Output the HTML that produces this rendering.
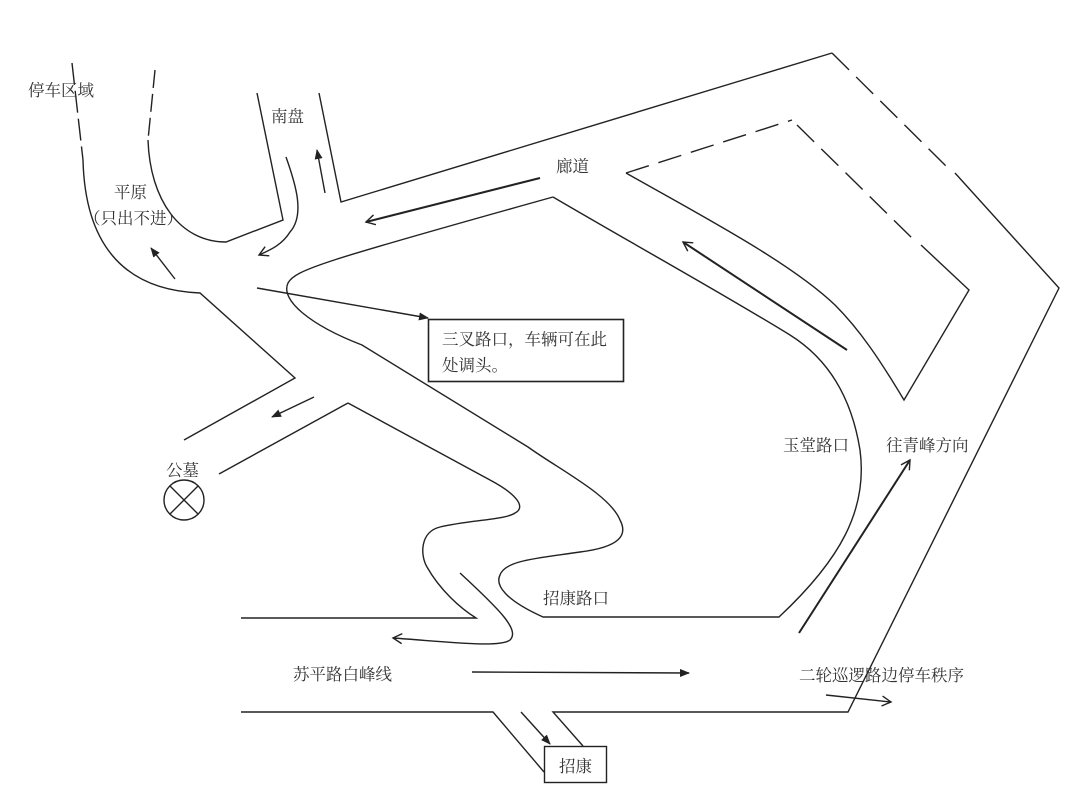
<!DOCTYPE html>
<html><head><meta charset="utf-8"><style>
html,body{margin:0;padding:0;background:#fff;}
svg{display:block;}
text{font-family:"Liberation Serif","Noto Serif CJK SC","Noto Sans CJK SC",serif;font-size:16.5px;fill:#333;}
</style></head><body>
<svg width="1080" height="811" viewBox="0 0 1080 811" xmlns="http://www.w3.org/2000/svg">
<defs>
<marker id="a" markerWidth="10" markerHeight="8" refX="9" refY="4" orient="auto" markerUnits="userSpaceOnUse"><path d="M0,0 L10,4 L0,8 Z" fill="#222"/></marker>
<marker id="o" markerWidth="12" markerHeight="12" refX="10" refY="6" orient="auto" markerUnits="userSpaceOnUse"><path d="M1,1 L10,6 L1,11" fill="none" stroke="#222" stroke-width="1.4"/></marker>
</defs>
<g fill="none" stroke="#222" stroke-width="1.4">
<path d="M72,63 L83,160" stroke-dasharray="22,6"/>
<path d="M83,160 C85,240 120,290 200,293 L295,378 L184,440"/>
<path d="M155,70 L148,140" stroke-dasharray="18,6"/>
<path d="M148,140 C150,200 180,242 226,242 L283,220 L257,93"/>
<path d="M319,93 L341,202 L832,53"/>
<path d="M832,53 L950,170" stroke-dasharray="24,10"/>
<path d="M955,173 L1059,288 L848,712 L553,712 L583,746"/>
<path d="M626,173 L792,120" stroke-dasharray="24,10"/>
<path d="M797,125 L914,240" stroke-dasharray="24,10"/>
<path d="M921,245 L969,290 L904,400 C880,360 860,330 835,305 C790,262 700,215 626,173"/>
<path d="M553,197 C640,248 720,292 790,335 C830,360 852,400 860,450 C868,510 840,560 779,617 L543,617 C505,600 495,585 500,575 C505,560 540,558 580,552 C620,547 628,535 620,520 C610,495 560,470 528,447 L362,345 C310,325 280,300 288,283 C295,270 320,262 553,197"/>
<path d="M348,403 L490,480 C520,496 525,508 515,513 C505,520 470,520 440,527 C420,532 420,555 427,567 C440,590 460,608 476,618 L241,618"/>
<path d="M348,403 L219,474"/>
<path d="M241,712 L493,712 L544,772"/>
<path d="M257,288 L428,318" marker-end="url(#a)"/>
<path d="M325,193 L317,150" marker-end="url(#a)"/>
<path d="M286,157 C296,185 305,215 290,232 C282,245 270,250 259,255" marker-end="url(#o)"/>
<path d="M175,279 L151,248" marker-end="url(#a)"/>
<path d="M540,178 L366,222" stroke-width="2" marker-end="url(#o)"/>
<path d="M847,350 L683,242" stroke-width="2" marker-end="url(#o)"/>
<path d="M799,633 L910,460" stroke-width="2" marker-end="url(#o)"/>
<path d="M314,397 L272,417" marker-end="url(#a)"/>
<path d="M460,573 C500,610 520,630 510,640 C500,648 450,642 393,638" marker-end="url(#o)"/>
<path d="M472,672 L689,673" marker-end="url(#a)"/>
<path d="M521,712 L550,744" marker-end="url(#a)"/>
<path d="M826,695 L891,702" marker-end="url(#o)"/>
<rect x="428.5" y="319.5" width="195" height="62" stroke-width="1.6"/>
<rect x="544.5" y="746.5" width="62" height="36"/>
<circle cx="184" cy="500" r="20"/>
<path d="M170,486 L198,514 M198,486 L170,514"/>
</g>
<text x="28" y="96">停车区域</text>
<text x="271" y="122">南盘</text>
<text x="114" y="198">平原</text>
<text x="84" y="224">（只出不进）</text>
<text x="556" y="172">廊道</text>
<text x="442" y="345" style="font-size:16.5px">三叉路口，车辆可在此</text>
<text x="442" y="371" style="font-size:16.5px">处调头。</text>
<text x="166" y="476">公墓</text>
<text x="783" y="451">玉堂路口</text>
<text x="886" y="451">往青峰方向</text>
<text x="543" y="604">招康路口</text>
<text x="293" y="680">苏平路白峰线</text>
<text x="799" y="681">二轮巡逻路边停车秩序</text>
<text x="559" y="772">招康</text>
</svg>
</body></html>
